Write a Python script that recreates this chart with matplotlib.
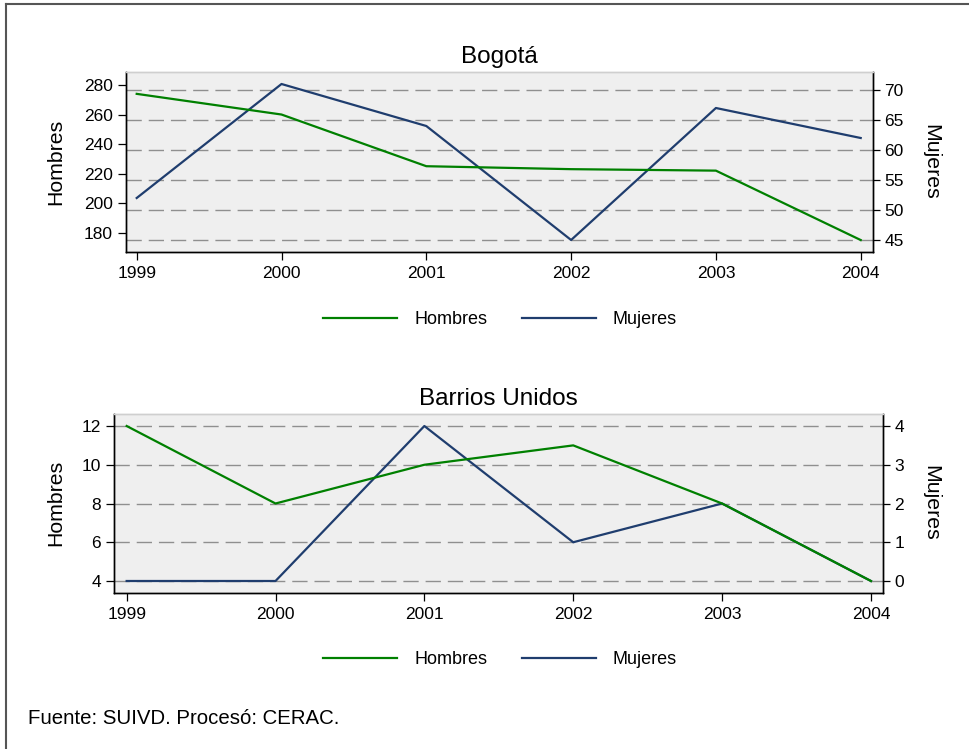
import matplotlib
matplotlib.use("Agg")
import matplotlib.pyplot as plt
from matplotlib.lines import Line2D

# Datos (SUIVD / CERAC)
anios = [1999, 2000, 2001, 2002, 2003, 2004]

bogota_hombres = [274, 260, 225, 223, 222, 175]
bogota_mujeres = [52, 71, 64, 45, 67, 62]

barrios_hombres = [12, 8, 10, 11, 8, 4]
barrios_mujeres = [0, 0, 4, 1, 2, 0]

bogota_ticks_h = [180, 200, 220, 240, 260, 280]
bogota_ticks_m = [45, 50, 55, 60, 65, 70]
barrios_ticks_h = [4, 6, 8, 10, 12]
barrios_ticks_m = [0, 1, 2, 3, 4]

VERDE = "#008000"
AZUL = "#1f3d6e"
FONDO = "#efefef"
GRIS_GRID = "#8f8f8f"

plt.rcParams["font.family"] = ["Liberation Sans", "DejaVu Sans"]

W, H = 969, 749


def px_x(x):
    return x / W


def px_y(y):
    return 1 - y / H


def dibujar_panel(fig, rect, titulo, hombres, mujeres, ticks_h, ticks_m,
                  lim_h, lim_m, xlim, ylab_y):
    ax = fig.add_axes(rect)
    ax2 = ax.twinx()
    # el eje de Hombres por encima, el de Mujeres (con grilla y fondo) debajo
    ax.set_zorder(2)
    ax2.set_zorder(1)
    ax.patch.set_visible(False)
    ax2.patch.set_visible(True)
    ax2.set_facecolor(FONDO)

    ax2.plot(anios, mujeres, color=AZUL, linewidth=1.6)
    ax.plot(anios, hombres, color=VERDE, linewidth=1.6)

    ax.set_xlim(*xlim)
    ax.set_ylim(*lim_h)
    ax2.set_ylim(*lim_m)
    ax.set_xticks(anios)
    ax.set_yticks(ticks_h)
    ax2.set_yticks(ticks_m)

    ax2.yaxis.grid(True, color=GRIS_GRID, linewidth=1.0,
                   linestyle=(0, (11, 5)))
    ax2.set_axisbelow(True)

    for a in (ax, ax2):
        for lado in ("left", "bottom", "right"):
            a.spines[lado].set_color("black")
            a.spines[lado].set_linewidth(1.0)
        a.spines["top"].set_color("#cfcfcf")
        a.spines["top"].set_linewidth(1.0)

    ax.tick_params(axis="both", labelsize=12.5, length=5.5, width=0.9,
                   direction="out", pad=4)
    ax.tick_params(axis="x", pad=4.5)
    ax2.tick_params(axis="y", labelsize=12.5, length=5, width=0.9,
                    direction="out", pad=3)

    ax.set_title(titulo, fontsize=17.5, pad=6.3)

    fig.text(px_x(56), px_y(ylab_y), "Hombres", rotation=90,
             ha="center", va="center", fontsize=15.3)
    fig.text(px_x(931), px_y(ylab_y), "Mujeres", rotation=270,
             ha="center", va="center", fontsize=15.3)
    return ax, ax2


fig = plt.figure(figsize=(W / 100, H / 100), dpi=100)
fig.patch.set_facecolor("white")

# Panel Bogotá
dibujar_panel(
    fig,
    [px_x(125.7), px_y(252), (873.3 - 125.7) / W, 180 / H],
    "Bogotá", bogota_hombres, bogota_mujeres,
    bogota_ticks_h, bogota_ticks_m,
    (166.9, 288.8), (43, 73), (1998.924, 2004.087), 162,
)

# Panel Barrios Unidos
dibujar_panel(
    fig,
    [px_x(114), px_y(593.3), (883.3 - 114) / W, 179.3 / H],
    "Barrios Unidos", barrios_hombres, barrios_mujeres,
    barrios_ticks_h, barrios_ticks_m,
    (3.365, 12.62), (-0.3175, 4.31), (1998.915, 2004.083), 503,
)

# Leyendas
manejadores = [
    Line2D([], [], color=VERDE, linewidth=1.6, label="Hombres"),
    Line2D([], [], color=AZUL, linewidth=1.6, label="Mujeres"),
]
for y_leg in (320, 660):
    fig.legend(handles=manejadores, loc="center",
               bbox_to_anchor=(px_x(500), px_y(y_leg)), ncol=2,
               frameon=False, fontsize=13, handlelength=4.1,
               handletextpad=0.95, columnspacing=1.9)

# Fuente
fig.text(px_x(28), px_y(719), "Fuente: SUIVD. Procesó: CERAC.",
         ha="left", va="center", fontsize=14.7)

# Borde del gráfico (solo arriba e izquierda, como en el original)
fig.add_artist(Line2D([px_x(6), px_x(6)], [px_y(4), 0], color="#555555",
                      linewidth=1.5, transform=fig.transFigure))
fig.add_artist(Line2D([px_x(6), 1], [px_y(4), px_y(4)], color="#555555",
                      linewidth=1.5, transform=fig.transFigure))

fig.savefig("out.png", dpi=100)
